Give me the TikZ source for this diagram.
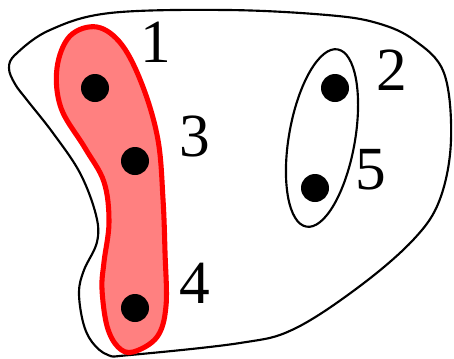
\documentclass[tikz,border=0pt]{standalone}
\usepackage{fontspec}
\setmainfont{Liberation Serif}
\usetikzlibrary{positioning}

\begin{document}
\begin{tikzpicture}[x=0.75pt, y=-0.75pt,
  every node/.style={font=\fontsize{46}{46}\selectfont},
  vertex/.style={circle, fill=black, inner sep=0pt, minimum size=28*0.75pt},
  lbl/.style={inner sep=0pt}]

\useasboundingbox (0,0) rectangle (454,358);

% ---- outer set ----
\draw[line width=1.6pt] plot[smooth cycle, tension=0.6] coordinates {
  (9,68) (15,84) (27,100) (53,133) (80,173) (96,215) (97,242) (84,270) (79,292)
  (83,322) (92,342) (108,355) (130,355) (240,343) (294,329) (360,286) (414,239)
  (440,199) (451,140) (444,73) (414,40) (377,23) (327,15) (227,10)
  (110,13) (50,30) (16,54)};

% ---- red edge {1,3,4} ----
\draw[red, fill=red!50, line width=3.8pt] plot[smooth cycle, tension=0.6] coordinates {
  (97,27) (122,45) (143,87) (158,140) (163,199) (165,252) (166,306)
  (157,337) (133,352) (118,347) (107,326) (102,289) (104,262) (109,222)
  (104,182) (85,148) (61,108) (57,68) (70,36)};

% ---- edge {2,5} ----
\draw[line width=1.6pt, rotate around={-10:(322,138)}] (322,138) ellipse (33 and 90);

% ---- vertices ----
\node[vertex] (v1) at (95,88) {};
\node[vertex] (v3) at (135,161) {};
\node[vertex] (v4) at (135,308) {};
\node[vertex] (v2) at (335,88) {};
\node[vertex] (v5) at (315,188) {};

% ---- labels ----
\node[lbl] (l1) at (156,42) {1};
\node[lbl] (l3) at (195,136) {3};
\node[lbl] (l4) at (195,283) {4};
\node[lbl] (l2) at (392,70) {2};
\node[lbl] (l5) at (371,170) {5};
\end{tikzpicture}
\end{document}
